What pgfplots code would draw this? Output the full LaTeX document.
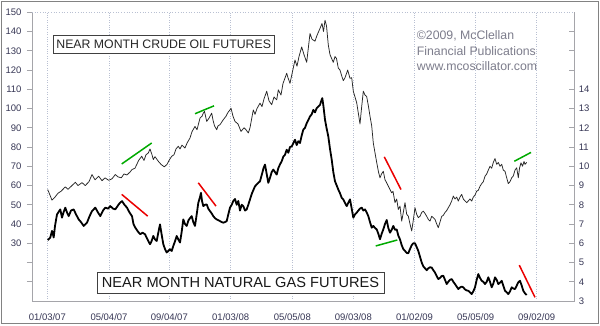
\documentclass[border=0pt]{standalone}
\usepackage{pgfplots}
\pgfplotsset{compat=1.18}
\usepackage{fontspec}
\setmainfont{Liberation Sans}
\definecolor{tickcol}{RGB}{55,55,85}
\definecolor{gridcol}{RGB}{185,192,210}
\definecolor{bordcol}{RGB}{165,165,170}
\definecolor{framecol}{RGB}{130,130,130}
\definecolor{cpcol}{RGB}{125,125,140}
\definecolor{mygreen}{RGB}{0,170,0}
\definecolor{myred}{RGB}{235,0,0}
\begin{document}
\begin{tikzpicture}[x=1pt,y=1pt]
\path[fill=white] (0,0) rectangle (600,325);
\draw[framecol,line width=1.5pt] (1.5,1.5) rectangle (598.5,323.5);
% ---------------- crude oil (left axis) ----------------
\begin{axis}[
  at={(32pt,24pt)}, anchor=south west, scale only axis,
  width=542.3pt, height=288.7pt,
  xmin=32, xmax=574.3, ymin=0, ymax=150,
  axis line style={draw=none},
  xtick={47.3,109,169.3,230.7,292.3,353.3,414.5,475.7,536.7},
  xticklabels={01/03/07,05/04/07,09/04/07,01/03/08,05/05/08,09/03/08,01/02/09,05/05/09,09/02/09},
  xtick style={draw=none},
  xmajorgrids, grid style={gridcol, dotted, line width=0.6pt},
  ytick={10,20,...,150},
  yticklabels={,,30,40,50,60,70,80,90,100,110,120,130,140,150},
  ytick pos=left, ymajorgrids=false,
  tick align=outside, major tick length=5pt,
  ytick style={bordcol, line width=0.6pt},
  ticklabel style={font=\fontsize{9.5}{10}\selectfont, text=tickcol},
  xticklabel style={yshift=-4pt},
  yticklabel style={xshift=-2pt},
  clip=false,
]
\draw[bordcol, line width=0.7pt] (rel axis cs:0,1) -- (rel axis cs:0,0) -- (rel axis cs:1,0) -- (rel axis cs:1,1);
\draw[gridcol, dotted, line width=0.7pt] (rel axis cs:0,1) -- (rel axis cs:1,1);
\addplot[black!85, line width=0.75pt, line join=round] coordinates {
(47.7,57.9)(50,55)(52,52.4)(55,54)(58,56)(61,57)(65.3,59.3)(68,58)(72,60)(75.3,61.7)
(78,60)(82,61.5)(85.3,60)(89,62)(92,65.7)(95,63)(98.7,64.8)(102,62.5)(105,64)(108.7,62.7)
(112,63.5)(115.3,65.7)(118,64.5)(121.3,64)(124,66)(127,65.5)(130,67)(132,68.3)(135,69)(138.7,73.1)
(141.7,75.2)(144,73)(146,76)(148.3,76.9)(150,79)(152,76)(153.3,73.5)(155,75)(158.3,72.6)(161,71)
(164.3,69.7)(167,71)(169,73)(171.7,75.2)(174,76)(176,79)(178.3,80.4)(180,79)(182,81)(185,79.5)
(187,82)(190,84.7)(192,88)(195,90.7)(197,89)(200,95)(202,96)(203.3,97.6)(204.5,98.5)(206.7,93.3)
(209,95)(211.7,97.6)(213,94)(214.5,91)(216.7,89)(218,91)(220,91.6)(223.3,94.2)(226,96)(228,98)
(230,99.3)(231,100.2)(233,96)(235,93.3)(238,92)(241,88.1)(244,90)(246,89)(248.3,87.3)(250,90)
(253.3,99.3)(255,97)(257,100)(260,102.8)(262,101)(264,105)(266.7,109)(269,104)(271.7,102)(274,106)
(276.7,104.5)(278.3,109.7)(281,107)(283,113)(286.7,118.3)(288,116)(290,113.1)(292,118)(295,125.2)(297,122)
(299,127)(301.7,132)(304,128)(306.7,124)(308,130)(310,139)(312,136)(315,135)(317,138)(320,141.6)
(322,144.2)(323.5,140)(325,145.9)(326.5,143)(328.3,133)(330,128)(333.3,124)(335,127)(336.5,126)(338.3,121)
(340,120)(341.7,117)(343.3,114.5)(345,116)(347.7,120)(350,115.7)(351.7,116)(353.3,109)(356.7,103)(358.5,97)
(360,92)(361.5,100)(363.3,109)(365,107)(366.7,106.2)(368.5,101)(370,96)(371.7,91)(373.3,82.1)(375,77)
(376.7,72)(378.5,67)(380,64)(381.5,66)(383.3,67.4)(385,63)(386.7,61.4)(389,59)(391.7,56.2)(393,57)
(395,51.1)(396.7,53)(398.3,47.6)(400,49.3)(401.7,41.5)(403.3,46)(405,51.1)(406.7,45)(408.3,44.1)(410,40)
(411.7,36.4)(413.3,42)(415,48.5)(416.7,45)(418.3,43.3)(420,44)(421.7,46)(423.3,46.7)(425,45.5)(426.7,44)
(428.3,42.4)(430,41.5)(431.7,44)(433.3,43.3)(435,42.4)(436.7,40)(438.3,38.1)(440,41)(441.7,44)(443.3,44.5)
(445,46)(446.7,47)(448.3,48.5)(450,50)(451.7,52)(453.3,54.5)(455,53)(456.7,54)(458.3,51.9)(460,54)
(461.7,55.4)(463.3,53)(465,52)(466.7,51.1)(468.3,52)(470,53)(471.7,51.9)(473.3,54)(475,55)(476.7,57.1)
(478.3,57.5)(480,59.6)(481.7,61)(483.3,62)(485,64.8)(486.7,66)(488.3,68)(490,70)(491.7,69)(493.3,72)
(495,74)(496.7,71)(498.3,72)(500,70)(501.7,71)(503.3,68)(505,67.4)(506.7,64)(508.3,61)(510,62)
(511.7,64)(513.3,65)(515,68)(516.7,69.2)(518.3,64)(519.5,69)(521,71.8)(522.5,70)(524,72.5)(525,71)(526.7,72)
};
\addplot[mygreen, line width=1.5pt] coordinates {(121.7,71.2)(151.7,82.1)};
\addplot[mygreen, line width=1.5pt] coordinates {(195,97.3)(214,101.4)};
\addplot[mygreen, line width=1.5pt] coordinates {(514.3,72.6)(531,77.2)};
\addplot[myred, line width=1.5pt] coordinates {(384.3,74.9)(401,57.9)};
\end{axis}
% ---------------- natural gas (right axis) ----------------
\begin{axis}[
  at={(32pt,24pt)}, anchor=south west, scale only axis,
  width=542.3pt, height=288.7pt,
  xmin=32, xmax=574.3, ymin=3, ymax=18,
  axis line style={draw=none},
  axis x line=none,
  ytick={3,4,...,17},
  yticklabels={3,4,5,6,7,8,9,10,11,12,13,14,,,},
  ytick pos=right,
  tick align=inside, major tick length=5.5pt,
  ytick style={bordcol, line width=0.6pt},
  ticklabel style={font=\fontsize{9.5}{10}\selectfont, text=tickcol},
  yticklabel style={xshift=1pt},
  clip=false,
]
\addplot[black, line width=1.8pt, line join=round] coordinates {
(47.7,6.16)(50.3,6.3)(52,6.64)(53.7,6.3)(55,6.9)(57,7.5)(60.3,7.76)(62,7.33)(63.5,7.6)(65.3,7.85)
(67,7.6)(68.7,7.41)(71,7.7)(73.7,7.76)(76,7.5)(78.7,7.24)(81,7.1)(83.7,6.9)(85.5,7.0)(87,7.07)
(89.5,7.4)(92,7.67)(95.3,7.85)(98,7.6)(100.3,7.41)(103,7.7)(105.3,7.85)(108,7.8)(110.3,7.93)(113,7.8)
(115.3,7.76)(118.7,8.02)(120,8.1)(122,8.19)(124.5,8.0)(127,7.85)(129.5,7.6)(132,7.41)(133.5,7.0)(135.3,6.81)
(138,6.6)(140.3,6.47)(142.5,6.55)(145,6.47)(147.5,6.2)(150,5.95)(151.5,6.1)(153.3,6.38)(155,6.2)(156.7,6.12)
(158.5,6.6)(160,6.98)(161.5,6.5)(163.3,5.95)(165,5.7)(166.7,5.52)(168.3,5.6)(170,5.69)(171.7,5.6)(173.3,5.86)
(175,6.1)(176.7,6.38)(178.3,6.2)(180,6.04)(181.7,6.6)(183.3,7.24)(185,7.0)(186.7,6.9)(188.5,7.2)(190,7.3)
(191.7,7.41)(193.3,7.1)(195,6.9)(196.7,7.5)(198.3,8.1)(200,8.4)(201,8.62)(202,8.2)(203.3,7.93)(205,8.0)
(206.7,8.02)(208.3,7.8)(210,7.67)(211.7,7.55)(213.3,7.41)(215,7.3)(216.7,7.24)(218.3,7.2)(220,7.15)(221.7,7.1)
(223.3,7.07)(225,7.1)(226.7,7.15)(228.3,7.5)(230,7.85)(231.7,8.0)(233.3,8.2)(235,8.3)(236.7,8.0)(238.3,8.2)
(240,7.7)(241.7,8.0)(243.3,7.93)(245,7.7)(246.7,7.76)(248.3,8.0)(250,8.28)(252,8.6)(255,8.96)(257.5,9.1)
(260,9.22)(262,9.6)(263.5,9.9)(265,10.09)(266.7,9.6)(268.3,9.14)(270,9.4)(271.7,9.7)(273.3,9.83)(275,9.7)
(276.7,9.57)(278.3,9.9)(280,10.1)(281.7,10.26)(283.3,10.5)(285,10.6)(286.7,10.86)(288.3,10.7)(290,11.0)(291.7,11.03)
(293.3,11.2)(295,11.38)(296.7,11.1)(298.3,11.3)(300,11.21)(301.7,11.6)(303.3,11.9)(305,12.0)(306.7,12.24)(308.3,12.4)
(310,12.59)(311.7,12.7)(313.3,12.93)(315,12.8)(316.7,13.02)(318.3,13.1)(320,13.19)(321.3,13.4)(322.3,13.54)(323.5,13.1)
(325,12.42)(326.5,12.0)(328.3,11.55)(330,10.9)(331.7,10.35)(333.3,9.7)(335,9.22)(336.7,9.0)(338.3,8.79)(340,8.6)
(341.7,8.36)(343.3,8.28)(345,8.1)(346.7,7.93)(348.3,8.1)(350,8.28)(351.7,7.8)(353.3,7.33)(355,7.5)(356.7,7.59)
(358.3,7.7)(360,7.8)(361.7,7.85)(363.3,7.7)(365,7.76)(366.7,7.6)(368.3,7.41)(370,7.1)(371.7,6.81)(373.3,6.9)
(375,6.8)(376.7,6.72)(378.3,6.5)(380,6.21)(381.7,6.5)(383.3,6.72)(385,7.0)(386.7,7.21)(388.3,6.8)(390,6.55)
(391.7,6.7)(393.3,6.9)(395,6.7)(396.7,6.72)(398.3,6.4)(400,6.2)(401.7,5.9)(403.3,5.7)(405,5.6)(406.7,5.5)
(408.3,5.48)(410,5.7)(411.7,5.9)(413.3,6.0)(415,6.0)(416.7,5.8)(418.3,5.6)(420,5.3)(421.7,5.0)(423.3,4.8)
(425,4.7)(426.7,4.6)(428.3,4.7)(430,4.75)(431.7,4.74)(433.3,4.6)(435,4.48)(436.7,4.3)(438.3,4.14)(440,4.2)
(441.7,4.3)(443.3,4.31)(445,4.1)(446.7,3.88)(448.3,4.0)(450,4.1)(451.7,4.14)(453.3,4.0)(455,3.88)(456.7,3.75)
(458.3,3.62)(460,3.7)(461.7,3.75)(463.3,3.71)(465,3.6)(466.7,3.55)(468.3,3.53)(470,3.45)(471.7,3.36)(473.3,3.5)
(475,3.71)(476.7,4.1)(478.3,4.4)(480,4.2)(481.7,4.05)(483.3,4.0)(485,3.88)(486.7,4.0)(488.3,4.23)(490,4.0)
(491.7,3.71)(493.3,3.9)(495,4.23)(496.7,4.1)(498.3,3.88)(500,3.95)(501.7,4.05)(503.3,3.8)(505,3.53)(506.7,3.45)
(508.3,3.36)(510,3.5)(511.7,3.71)(513.3,3.65)(515,3.62)(516.7,3.8)(518.3,3.97)(520,4.05)(521.7,3.8)(523.3,3.53)
(525,3.4)(526.7,3.31)
};
\addplot[myred, line width=1.5pt] coordinates {(121.7,8.54)(147.7,7.41)};
\addplot[myred, line width=1.5pt] coordinates {(198.3,9.14)(216,7.93)};
\addplot[myred, line width=1.5pt] coordinates {(519.3,4.86)(535,3.19)};
\addplot[mygreen, line width=1.5pt] coordinates {(375.7,5.86)(397.3,6.17)};
\end{axis}
% ---------------- labels ----------------
\node[draw=black!75, fill=white, line width=0.7pt, minimum width=220.7pt, minimum height=17.6pt, inner sep=0pt,
      font=\fontsize{12.3}{13}\selectfont, text=black!85] at (163.7,280.5) {NEAR MONTH CRUDE OIL FUTURES};
\node[draw=black!75, fill=white, line width=0.7pt, minimum width=287pt, minimum height=21pt, inner sep=0pt,
      font=\fontsize{14.6}{15}\selectfont, text=black!90] at (240.5,42.5) {NEAR MONTH NATURAL GAS FUTURES};
\node[anchor=base west, inner sep=0pt, text=cpcol, font=\fontsize{12.3}{13}\selectfont] at (416.7,285.7) {©2009, McClellan};
\node[anchor=base west, inner sep=0pt, text=cpcol, font=\fontsize{12.3}{13}\selectfont] at (416.7,270) {Financial Publications};
\node[anchor=base west, inner sep=0pt, text=cpcol, font=\fontsize{12.3}{13}\selectfont] at (416.7,254.3) {www.mcoscillator.com};
\end{tikzpicture}
\end{document}
